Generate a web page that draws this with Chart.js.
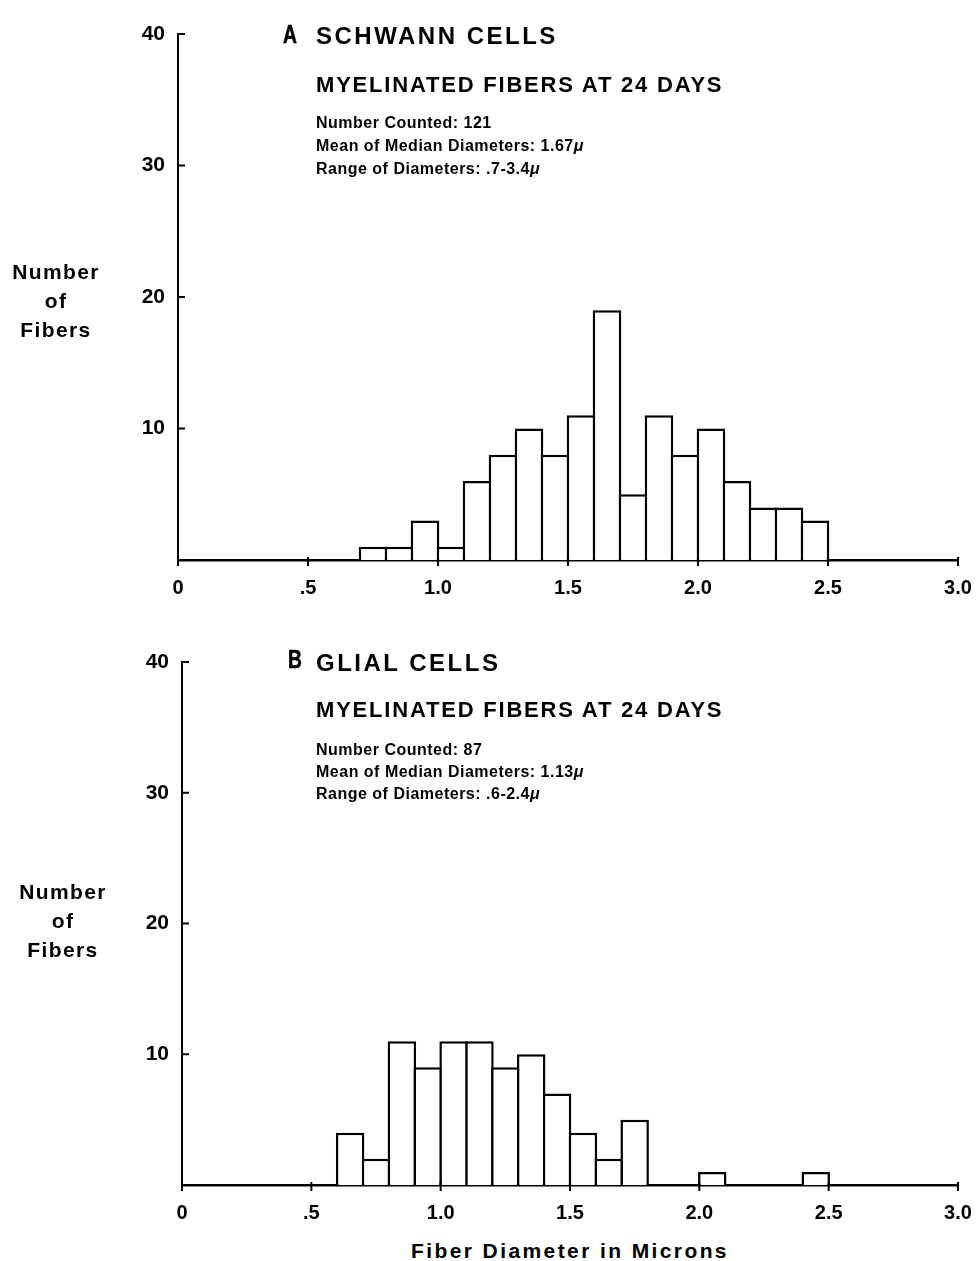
<!DOCTYPE html>
<html>
<head>
<meta charset="utf-8">
<script src="https://cdn.jsdelivr.net/npm/chart.js@4/dist/chart.umd.min.js"></script>
<style>
html,body{margin:0;padding:0;background:#fff;}
body{width:977px;height:1261px;position:relative;overflow:hidden;font-family:"Liberation Sans",Arial,Helvetica,sans-serif;font-weight:bold;color:#000;}
.t{position:absolute;white-space:nowrap;line-height:1;}
.letter{font-size:26px;transform:scaleX(0.74);transform-origin:left top;-webkit-text-stroke:0.6px #000;}
.big{font-size:24px;letter-spacing:2.5px;}
.sub{font-size:22px;letter-spacing:1.8px;}
.sm{font-size:16px;letter-spacing:0.5px;}
.ylab{position:absolute;width:112px;text-align:center;font-size:21px;line-height:29px;letter-spacing:1.4px;}
canvas{position:absolute;left:0;}
</style>
</head>
<body>
<canvas id="chartA" width="977" height="610" style="top:0"></canvas>
<canvas id="chartB" width="977" height="615" style="top:620px"></canvas>

<div class="t letter" style="left:283px;top:21px">A</div>
<div class="t big" style="left:316px;top:24px">SCHWANN CELLS</div>
<div class="t sub" style="left:316px;top:74px">MYELINATED FIBERS AT 24 DAYS</div>
<div class="t sm" style="left:316px;top:115px">Number Counted: 121</div>
<div class="t sm" style="left:316px;top:138px">Mean of Median Diameters: 1.67<i>μ</i></div>
<div class="t sm" style="left:316px;top:161px">Range of Diameters: .7-3.4<i>μ</i></div>
<div class="ylab" style="left:0;top:257px">Number<br>of<br>Fibers</div>

<div class="t letter" style="left:288px;top:646px">B</div>
<div class="t big" style="left:316px;top:651px">GLIAL CELLS</div>
<div class="t sub" style="left:316px;top:699px">MYELINATED FIBERS AT 24 DAYS</div>
<div class="t sm" style="left:316px;top:742px">Number Counted: 87</div>
<div class="t sm" style="left:316px;top:764px">Mean of Median Diameters: 1.13<i>μ</i></div>
<div class="t sm" style="left:316px;top:786px">Range of Diameters: .6-2.4<i>μ</i></div>
<div class="ylab" style="left:7px;top:877px">Number<br>of<br>Fibers</div>

<div class="t" style="left:368px;width:400px;text-align:center;top:1240px;font-size:21px;letter-spacing:2.4px;padding-left:2px">Fiber Diameter in Microns</div>

<script>
// ---- data ----
const xTickLabels = ['0', '.5', '1.0', '1.5', '2.0', '2.5', '3.0'];
const yTickLabels = ['', '10', '20', '30', '40'];

const binCentersA = [0.75, 0.85, 0.95, 1.05, 1.15, 1.25, 1.35, 1.45, 1.55, 1.65, 1.75, 1.85, 1.95, 2.05, 2.15, 2.25, 2.35, 2.45];
const countsA     = [1,    1,    3,    1,    6,    8,    10,   8,    11,   19,   5,    11,   8,    10,   6,    4,    4,    3];

const binCentersB = [0.65, 0.75, 0.85, 0.95, 1.05, 1.15, 1.25, 1.35, 1.45, 1.55, 1.65, 1.75, 2.05, 2.45];
const countsB     = [4,    2,    11,   9,    11,   11,   9,    10,   7,    4,    2,    5,    1,    1];

// ---- chart ----
const FONT = "'Liberation Sans', Arial, Helvetica, sans-serif";

const tickMarks = {
  id: 'tickMarks',
  afterDraw(chart) {
    const ctx = chart.ctx;
    const xs = chart.scales.x, ys = chart.scales.y;
    ctx.save();
    ctx.strokeStyle = '#000';
    ctx.lineWidth = 2;
    xs.ticks.forEach(t => {
      const px = xs.getPixelForValue(t.value);
      ctx.beginPath();
      ctx.moveTo(px, xs.top - 3);
      ctx.lineTo(px, xs.top + 6);
      ctx.stroke();
    });
    ys.ticks.forEach(t => {
      if (t.value === 0) return;
      const py = ys.getPixelForValue(t.value);
      ctx.beginPath();
      ctx.moveTo(ys.right, py);
      ctx.lineTo(ys.right + 7, py);
      ctx.stroke();
    });
    ctx.restore();
  }
};

function makeChart(id, centers, counts, yAxisWidth, padTop) {
  return new Chart(document.getElementById(id), {
    type: 'bar',
    data: {
      datasets: [{
        data: centers.map((c, i) => ({ x: c, y: counts[i] })),
        backgroundColor: '#fff',
        borderColor: '#000',
        borderWidth: { top: 2.5, left: 2.5, right: 2.5, bottom: 0 },
        borderSkipped: 'bottom',
        barPercentage: 1.1,
        categoryPercentage: 1
      }]
    },
    options: {
      responsive: false,
      animation: false,
      layout: { padding: { top: padTop, right: 19, left: 0, bottom: 0 } },
      plugins: { legend: { display: false }, tooltip: { enabled: false } },
      scales: {
        x: {
          type: 'linear', min: 0, max: 3, offset: false,
          grid: { display: false, drawTicks: false },
          border: { display: true, color: '#000', width: 2.5 },
          ticks: {
            stepSize: 0.5, autoSkip: false, maxRotation: 0, padding: 16,
            color: '#000', font: { family: FONT, size: 20, weight: 'bold' },
            callback: (v, i) => xTickLabels[i]
          },
          afterFit: s => { s.height = 50; s.paddingLeft = 0; s.paddingRight = 0; }
        },
        y: {
          min: 0, max: 40,
          grid: { display: false, drawTicks: false },
          border: { display: true, color: '#000', width: 2 },
          ticks: {
            stepSize: 10, padding: 13,
            color: '#000', font: { family: FONT, size: 21, weight: 'bold' },
            callback: (v, i) => yTickLabels[i]
          },
          afterFit: s => { s.width = yAxisWidth; s.paddingTop = 0; s.paddingBottom = 0; }
        }
      }
    },
    plugins: [tickMarks]
  });
}

makeChart('chartA', binCentersA, countsA, 178, 34);
makeChart('chartB', binCentersB, countsB, 182, 42);
</script>
</body>
</html>
